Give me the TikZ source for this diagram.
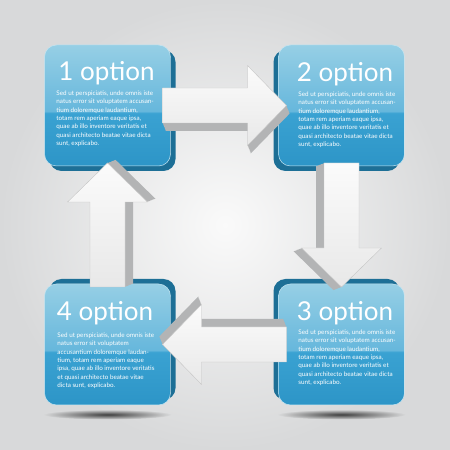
\documentclass[tikz,border=0pt]{standalone}
\usepackage{fontspec}
\setmainfont{Lato}
\usepackage{tikz}
\usetikzlibrary{calc,positioning,fadings}

\definecolor{boxtop}{HTML}{96CFE5}
\definecolor{boxhigh}{HTML}{66B7DC}
\definecolor{boxmid}{HTML}{3AA2D2}
\definecolor{boxlow}{HTML}{2D95C7}
\definecolor{boxside}{HTML}{1D6F96}
\definecolor{arrowside}{HTML}{B3B4B5}
\definecolor{bgouter}{HTML}{D8D9DA}

\pgfdeclareverticalshading{boxgloss}{100bp}{color(0bp)=(boxlow); color(25bp)=(boxlow); color(47bp)=(boxmid); color(47.5bp)=(boxhigh); color(75bp)=(boxtop); color(100bp)=(boxtop)}
\tikzfading[name=shadowfade, inner color=transparent!0, outer color=transparent!100]

\tikzstyle{optbox} = [rectangle, rounded corners=12pt, minimum width=126pt, minimum height=121pt, shade, shading=boxgloss, draw=white!45!boxtop, line width=0.5pt]
\tikzstyle{optdepth} = [rectangle, rounded corners=12pt, minimum width=126pt, minimum height=121pt, fill=boxside]
\tikzstyle{opttitle} = [text=white, font=\fontsize{26}{26}\selectfont, inner sep=0pt]
\tikzstyle{opttext} = [text=white, font=\fontsize{6.3}{8.3}\selectfont, align=left, inner sep=0pt]
\tikzstyle{arrowface} = [draw=gray!45, line width=0.4pt, top color=white!97!gray, bottom color=gray!18]
\tikzstyle{arrowdepth} = [fill=arrowside]

\tikzset{blockarrow/.pic={
  \foreach \d in {1,...,8}
    \fill[arrowdepth, shift={(0.4*\d,-\d)}] (-62,17.5) -- (23,17.5) -- (23,40) -- (62,0) -- (23,-40) -- (23,-17.5) -- (-62,-17.5) -- cycle;
  \path[arrowface] (-62,17.5) -- (23,17.5) -- (23,40) -- (62,0) -- (23,-40) -- (23,-17.5) -- (-62,-17.5) -- cycle;
}}

\begin{document}
\begin{tikzpicture}[x=1pt,y=1pt]
\useasboundingbox (0,0) rectangle (450,450);
\shade[inner color=white!96!gray, outer color=bgouter] (0,0) rectangle (450,450);

\coordinate (c1) at (107.5,344.5);
\coordinate (c2) at (341.5,344.5);
\coordinate (c3) at (341.5,105.5);
\coordinate (c4) at (107.5,105.5);

% shadows under the lower boxes
\fill[black!75, path fading=shadowfade] ($(c3)+(0,-70)$) ellipse [x radius=64pt, y radius=5pt];
\fill[black!75, path fading=shadowfade] ($(c4)+(0,-70)$) ellipse [x radius=64pt, y radius=5pt];

\node(side1)[optdepth] at ($(c1)+(5,-5)$) {};
\node(side2)[optdepth] at ($(c2)+(-5,-5)$) {};
\node(side3)[optdepth] at ($(c3)+(-5,5)$) {};
\node(side4)[optdepth] at ($(c4)+(5,5)$) {};

\node(opt1)[optbox] at (c1) {};
\node(opt2)[optbox] at (c2) {};
\node(opt3)[optbox] at (c3) {};
\node(opt4)[optbox] at (c4) {};

\node(title1)[opttitle, below=16pt of opt1.north, xshift=-1pt] {1 option};
\node(title2)[opttitle, below=17pt of opt2.north, xshift=3.5pt] {2 option};
\node(title3)[opttitle, below=17pt of opt3.north, xshift=3.5pt] {3 option};
\node(title4)[opttitle, below=17pt of opt4.north, xshift=-2.5pt] {4 option};

\node(text1)[opttext, below right=46pt and 12pt of opt1.north west] {Sed ut perspiciatis, unde omnis iste\\natus error sit voluptatem accusan-\\tium doloremque laudantium,\\totam rem aperiam eaque ipsa,\\quae ab illo inventore veritatis et\\quasi architecto beatae vitae dicta\\sunt, explicabo.};
\node(text2)[opttext, below right=47pt and 20pt of opt2.north west] {Sed ut perspiciatis, unde omnis iste\\natus error sit voluptatem accusan-\\tium doloremque laudantium,\\totam rem aperiam eaque ipsa,\\quae ab illo inventore veritatis et\\quasi architecto beatae vitae dicta\\sunt, explicabo.};
\node(text3)[opttext, below right=46pt and 20pt of opt3.north west] {Sed ut perspiciatis, unde omnis iste\\natus error sit voluptatem accusan-\\tium doloremque laudantium,\\totam rem aperiam eaque ipsa,\\quae ab illo inventore veritatis et\\quasi architecto beatae vitae dicta\\sunt, explicabo.};
\node(text4)[opttext, below right=49pt and 13pt of opt4.north west] {Sed ut perspiciatis, unde omnis iste\\natus error sit voluptatem\\accusantium doloremque laudan-\\tium, totam rem aperiam eaque\\ipsa, quae ab illo inventore veritatis\\et quasi architecto beatae vitae\\dicta sunt, explicabo.};

\coordinate (a12) at ($(opt1.east)!0.5!(opt2.west)$);
\coordinate (a23) at ($(opt2.south)!0.5!(opt3.north)$);
\coordinate (a34) at ($(opt3.west)!0.5!(opt4.east)$);
\coordinate (a41) at ($(opt4.north)!0.5!(opt1.south)$);

\pic at (a12) {blockarrow};
\pic[rotate=-90] at (a23) {blockarrow};
\pic[rotate=180] at (a34) {blockarrow};
\pic[rotate=90] at (a41) {blockarrow};
\end{tikzpicture}
\end{document}
